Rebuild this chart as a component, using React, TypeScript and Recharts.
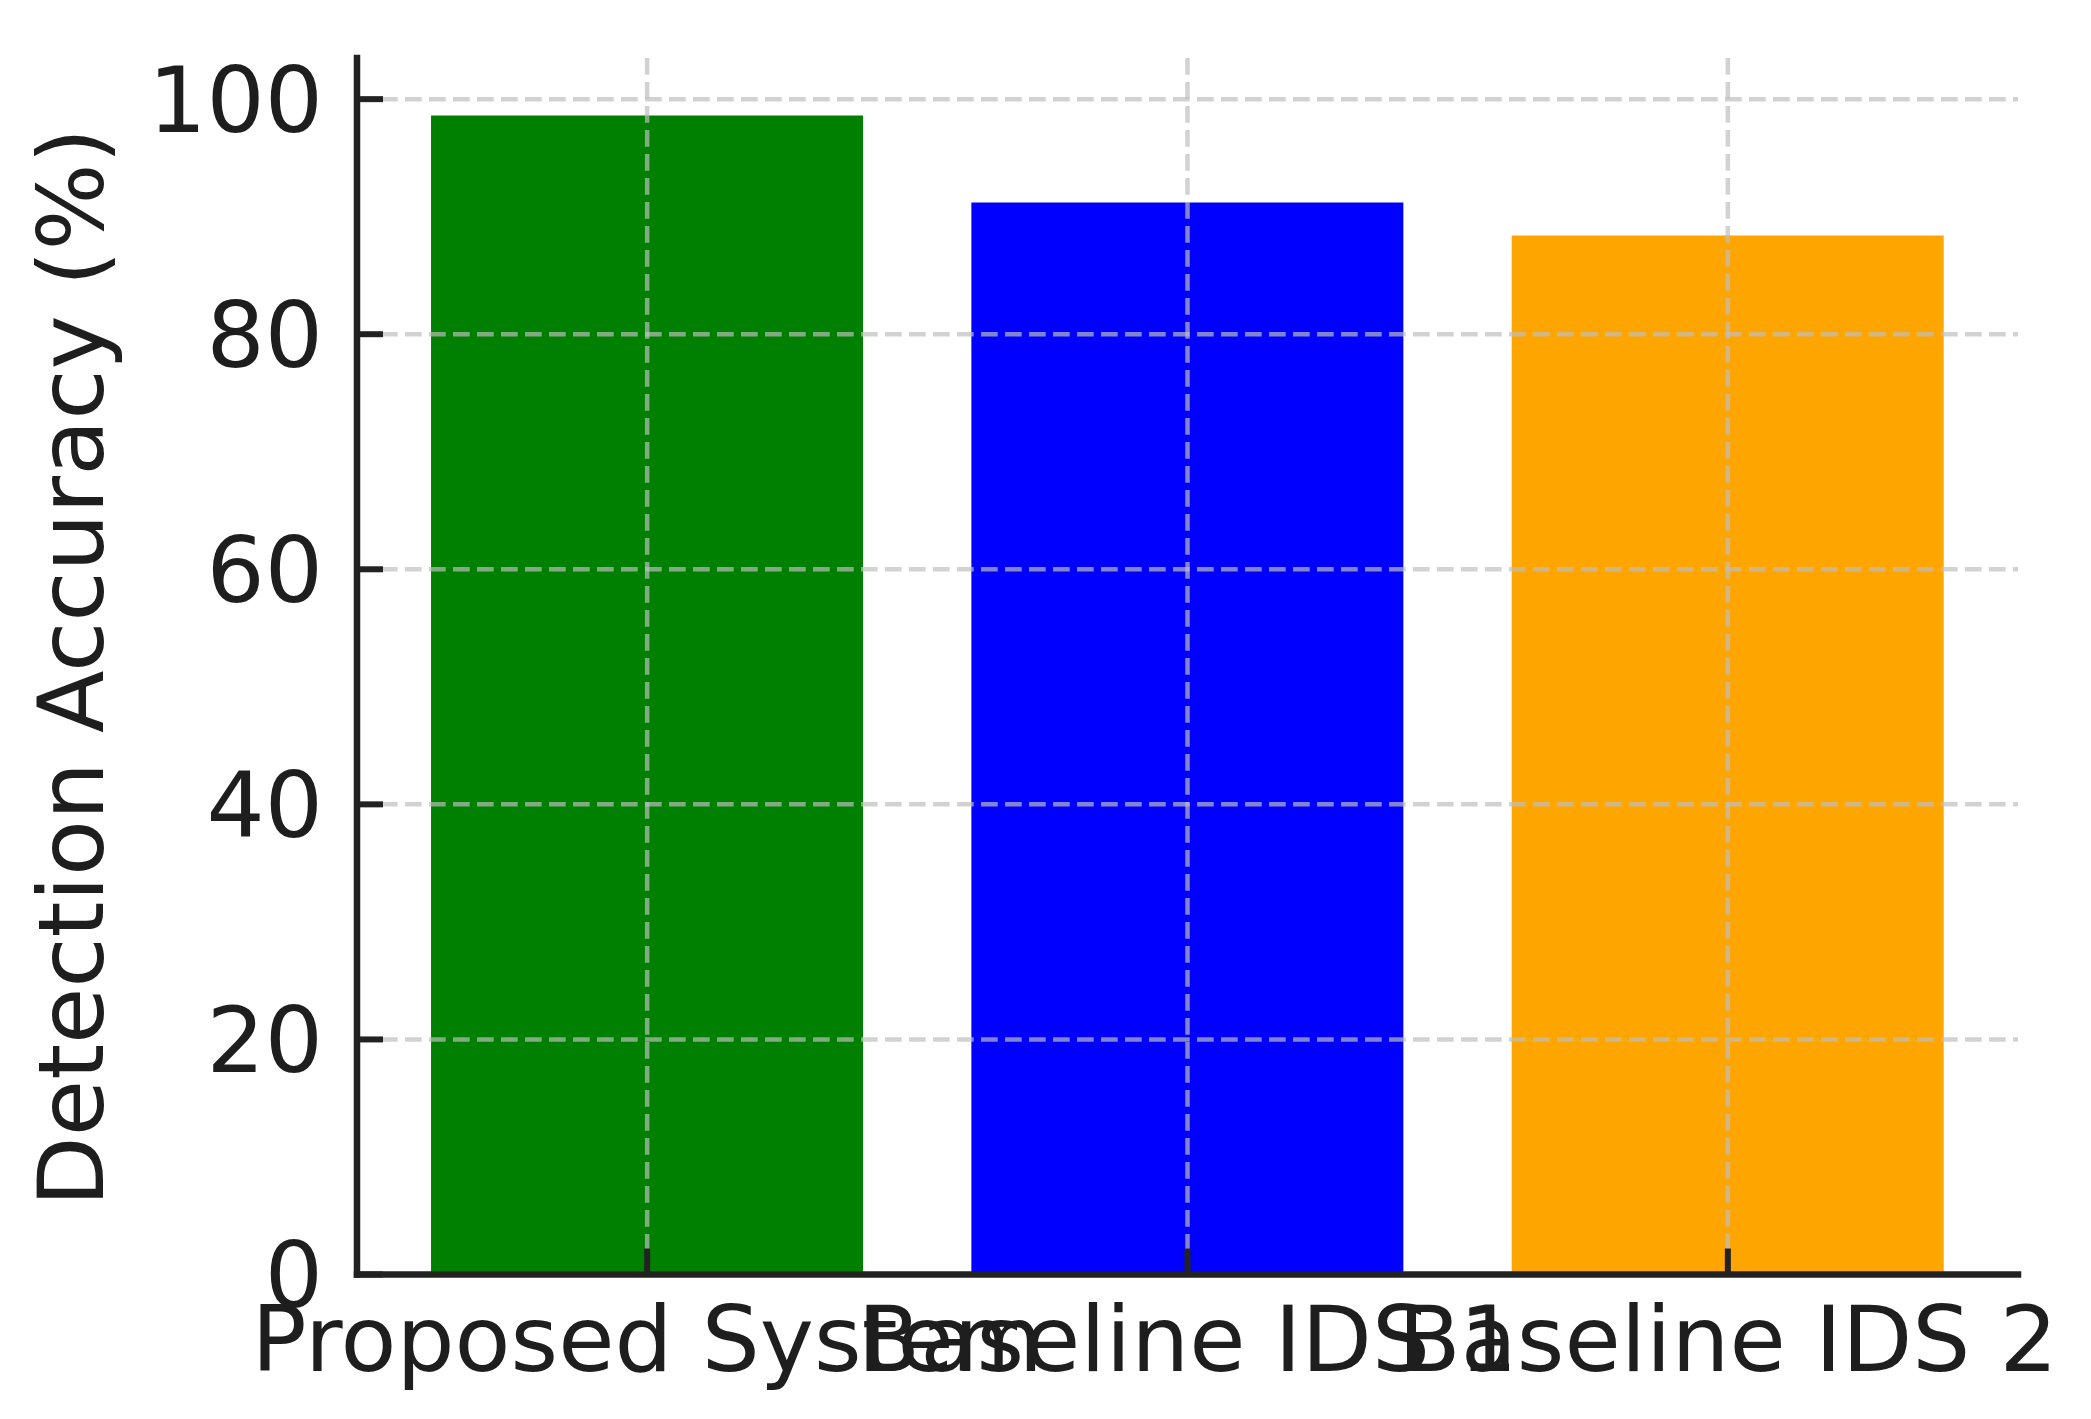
import React from 'react';
import { BarChart, Bar, XAxis, YAxis, CartesianGrid, Cell, Label } from 'recharts';

const categories = ['Proposed System', 'Baseline IDS 1', 'Baseline IDS 2'];
const accuracy = [98.6, 91.2, 88.4];
const yTicks = [0, 20, 40, 60, 80, 100];
const barColors = ['#008000', '#0000ff', '#ffa500'];

const data = categories.map((name, i) => ({ name, accuracy: accuracy[i] }));

const FONT = '"DejaVu Sans", sans-serif';
const FS = 91.5;
const INK = '#1e1e1e';
const SPINE = { stroke: '#222222', strokeWidth: 6.5, strokeLinecap: 'square' as const };

const near = (a: any, b: any) => typeof a === 'number' && typeof b === 'number' && Math.abs(a - b) < 1.5;

const gridLine = (p: any) => {
  const isHorizontal = near(p.y1, p.y2);
  if (isHorizontal) {
    if (near(p.y1, p.y) || near(p.y1, (p.y ?? 0) + (p.height ?? 0))) return <g key={p.key} />;
  } else {
    if (near(p.x1, p.x) || near(p.x1, (p.x ?? 0) + (p.width ?? 0))) return <g key={p.key} />;
  }
  return (
    <line
      key={p.key}
      x1={p.x1}
      y1={p.y1}
      x2={p.x2}
      y2={p.y2}
      stroke="#bebebe"
      strokeOpacity={0.69}
      strokeWidth={4.5}
      strokeDasharray="16.7 7.3"
    />
  );
};

const YLabel = (props: any) => {
  const vb = props.viewBox || { x: 0, y: 0, width: 0, height: 0 };
  const cx = 70;
  const cy = vb.y + vb.height / 2 + 1;
  return (
    <text
      x={cx}
      y={cy}
      dy="0.36em"
      transform={`rotate(-90, ${cx}, ${cy})`}
      textAnchor="middle"
      fontFamily={FONT}
      fontSize={FS}
      fill={INK}
    >
      Detection Accuracy (%)
    </text>
  );
};

export default function App() {
  return (
    <div style={{ position: 'absolute', left: 0, top: 0, background: '#fff' }}>
      <BarChart
        width={2091}
        height={1419}
        data={data}
        margin={{ top: 58, right: 73, bottom: 0, left: 0 }}
        barCategoryGap="10%"
      >
        <XAxis
          dataKey="name"
          height={144.5}
          padding={{ left: 20, right: 20 }}
          axisLine={SPINE}
          tickLine={{ stroke: '#222222', strokeWidth: 6 }}
          tickSize={-26}
          tickMargin={57.6}
          interval={0}
          tick={{ fontFamily: FONT, fontSize: FS, fill: INK }}
        />
        <YAxis
          width={357}
          domain={[0, 103.5]}
          ticks={yTicks}
          allowDataOverflow
          axisLine={SPINE}
          tickLine={{ stroke: '#222222', strokeWidth: 6 }}
          tickSize={-26}
          tickMargin={60}
          tick={{ fontFamily: FONT, fontSize: FS, fill: INK }}
        >
          <Label content={YLabel} />
        </YAxis>
        <Bar dataKey="accuracy" isAnimationActive={false}>
          {data.map((d, i) => (
            <Cell key={d.name} fill={barColors[i]} />
          ))}
        </Bar>
        <CartesianGrid
          stroke="none"
          fill="none"
          horizontal={gridLine}
          vertical={gridLine}
          zIndex={350}
        />
      </BarChart>
    </div>
  );
}
